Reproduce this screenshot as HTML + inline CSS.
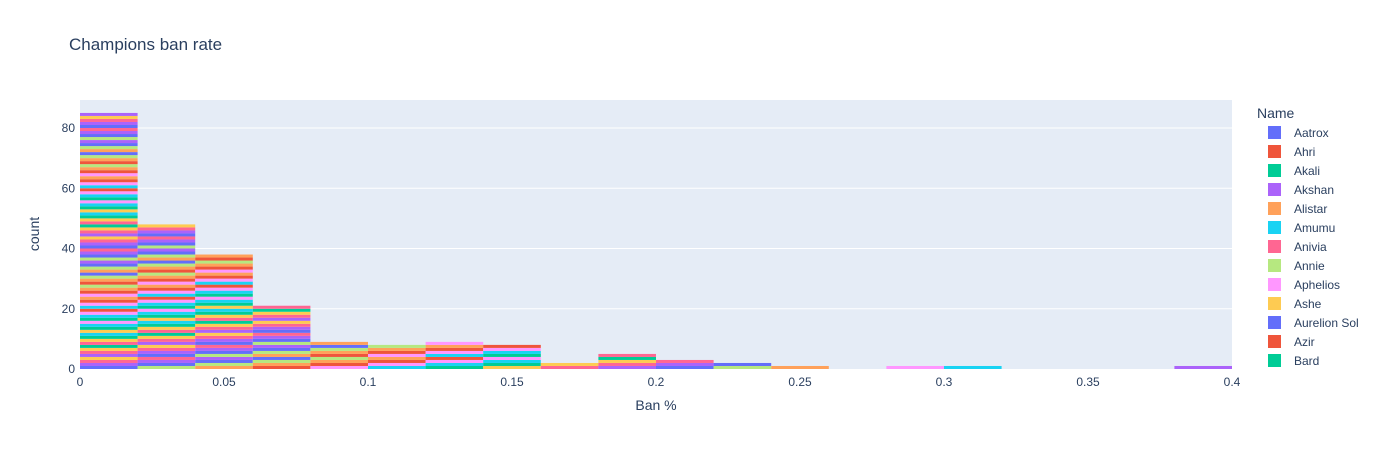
<!DOCTYPE html>
<html><head><meta charset="utf-8">
<style>
body{margin:0;background:#fff;font-family:"Liberation Sans",Arial,sans-serif;}
svg text{font-family:"Liberation Sans",Arial,sans-serif;fill:#2a3f5f;}
</style></head>
<body>
<svg id="chart" width="1394" height="450">
<rect width="1394" height="450" fill="#fff"/>
<text x="69" y="50" font-size="17">Champions ban rate</text>
<rect x="80" y="100" width="1152" height="269" fill="#e5ecf6"/>
<g id="grid"></g>
<g id="bars"></g>
<g id="axes"></g>
<text x="656" y="410" font-size="14" text-anchor="middle">Ban %</text>
<text transform="translate(39,234) rotate(-90)" font-size="14" text-anchor="middle">count</text>
<g id="legend"></g>
</svg>
<script>
const binStarts=[0,0.02,0.04,0.06,0.08,0.1,0.12,0.14,0.16,0.18,0.2,0.22,0.24,0.26,0.28,0.3,0.32,0.34,0.36,0.38];
const binCounts=[85,48,38,21,9,8,9,8,2,5,3,2,1,0,1,1,0,0,0,1];
const xTicks=[0,0.05,0.1,0.15,0.2,0.25,0.3,0.35,0.4];
const xTickLabels=["0","0.05","0.1","0.15","0.2","0.25","0.3","0.35","0.4"];
const yTicks=[0,20,40,60,80];
const legendNames=["Aatrox","Ahri","Akali","Akshan","Alistar","Amumu","Anivia","Annie","Aphelios","Ashe","Aurelion Sol","Azir","Bard"];
const palette=["#636efa","#EF553B","#00cc96","#ab63fa","#FFA15A","#19d3f3","#FF6692","#B6E880","#FF97FF","#FECB52"];
const binWidth=0.02;
const NS="http://www.w3.org/2000/svg";
const X=v=>80+v/0.4*1152;
const Y=v=>369-v*3.0125;
function mk(tag,attrs,parent){const e=document.createElementNS(NS,tag);for(const k in attrs)e.setAttribute(k,attrs[k]);parent.appendChild(e);return e;}
const grid=document.getElementById('grid'),bars=document.getElementById('bars'),axes=document.getElementById('axes'),legend=document.getElementById('legend');
yTicks.forEach(t=>{
  if(t>0){const l=mk('line',{x1:80,x2:1232,y1:Y(t),y2:Y(t),stroke:'#fff','stroke-width':1},grid);
  
  }
  const tx=mk('text',{x:75,y:Y(t)+4,'font-size':12,'text-anchor':'end'},axes);tx.textContent=t;
  
  
});
xTicks.forEach((t,i)=>{
  const tx=mk('text',{x:X(t),y:386,'font-size':12,'text-anchor':'middle'},axes);tx.textContent=xTickLabels[i];
  
  
});
binCounts.forEach((c,b)=>{
  const x0=X(binStarts[b]),x1=X(binStarts[b]+binWidth);
  for(let i=0;i<c;i++){
    const col=palette[(b*7+i*3+(i>>2))%10];
    const r=mk('rect',{x:x0,y:Y(i+1),width:x1-x0,height:Y(i)-Y(i+1),fill:col},bars);
    
    
  }
});
const lt=mk('text',{x:1257,y:118,'font-size':14},legend);lt.textContent='Name';


legendNames.forEach((n,i)=>{
  const y=132+i*19;
  const s=mk('rect',{x:1268,y:y-6,width:13,height:13,fill:palette[i%10]},legend);
  
  
  const t=mk('text',{x:1294,y:y+5,'font-size':12},legend);t.textContent=n;
  
  
});
</script>
</body></html>
